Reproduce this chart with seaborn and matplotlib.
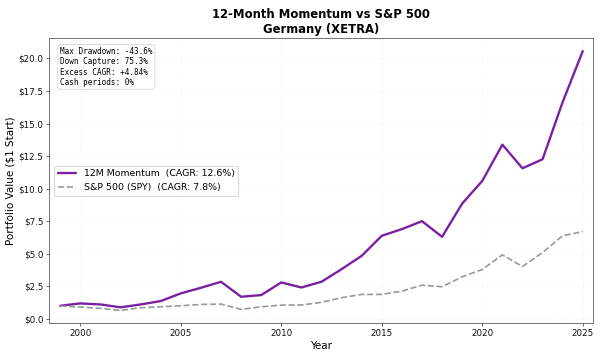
import matplotlib
matplotlib.use("Agg")
import matplotlib.pyplot as plt
import seaborn as sns
import pandas as pd
from matplotlib.ticker import FuncFormatter

years = list(range(1999, 2026))
momentum = [1.02, 1.20, 1.12, 0.90, 1.12, 1.38, 1.97, 2.40, 2.86, 1.71, 1.84, 2.81, 2.42,
            2.86, 3.83, 4.85, 6.39, 6.90, 7.51, 6.31, 8.86, 10.60, 13.38, 11.57, 12.26, 16.65, 20.56]
spy = [1.00, 0.92, 0.82, 0.66, 0.87, 0.94, 1.02, 1.12, 1.15, 0.74, 0.94, 1.07, 1.08,
       1.28, 1.64, 1.89, 1.89, 2.14, 2.60, 2.48, 3.24, 3.80, 4.93, 4.03, 5.10, 6.39, 6.72]
label_mom = "12M Momentum  (CAGR: 12.6%)"
label_spy = "S&P 500 (SPY)  (CAGR: 7.8%)"
stats_text = "Max Drawdown: -43.6%\nDown Capture: 75.3%\nExcess CAGR: +4.84%\nCash periods: 0%"
title = "12-Month Momentum vs S&P 500\nGermany (XETRA)"

sns.set_style("ticks", rc={"text.color": "black", "axes.labelcolor": "black",
                           "xtick.color": "#222222", "ytick.color": "#222222",
                           "axes.edgecolor": "#333333"})
df = pd.DataFrame({"Year": years, "mom": momentum, "spy": spy})

fig, ax = plt.subplots(figsize=(10, 5.95), dpi=60)
sns.lineplot(data=df, x="Year", y="mom", ax=ax, color="#7B1FA2", linewidth=2.8, label=label_mom)
sns.lineplot(data=df, x="Year", y="spy", ax=ax, color="#999999", linewidth=2.0,
             linestyle="--", label=label_spy)

ax.set_xlim(1998.45, 2025.5)
ax.set_ylim(-0.31, 21.55)
ax.set_title(title, fontsize=14, fontweight="bold", color="black")
ax.set_xlabel("Year", fontsize=12.5)
ax.set_ylabel("Portfolio Value ($1 Start)", fontsize=12.5)
ax.yaxis.set_major_formatter(FuncFormatter(lambda v, p: f"${v:.1f}"))
ax.tick_params(labelsize=10.5, labelcolor="#111111")
ax.grid(True, alpha=0.3, linestyle=":")
ax.legend(loc="center left", fontsize=11.2, framealpha=0.9)
ax.text(0.02, 0.97, stats_text, transform=ax.transAxes, fontsize=9.2, family="DejaVu Sans Mono",
        va="top", color="black",
        bbox=dict(boxstyle="round", facecolor="white", alpha=0.8, edgecolor="#cccccc"))
fig.subplots_adjust(left=0.082, right=0.988, top=0.893, bottom=0.095)
fig.savefig("out.png", dpi=60)
